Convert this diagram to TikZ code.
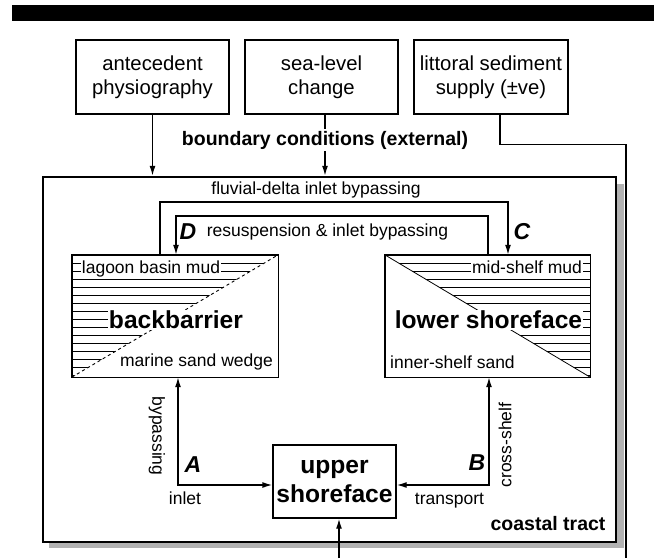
\documentclass[tikz,border=0pt]{standalone}
\usepackage{fontspec}
\setmainfont{Liberation Sans}
\usetikzlibrary{arrows.meta}
\begin{document}
\begin{tikzpicture}[x=1pt,y=-1pt,
  box/.style={draw, line width=1.4pt, fill=white, inner sep=0pt},
  conn/.style={line width=1.4pt},
  arr/.style={conn, -{Latex[length=10pt,width=6pt]}},
  darr/.style={conn, {Latex[length=10pt,width=6pt]}-{Latex[length=10pt,width=6pt]}},
  lab/.style={font=\fontsize{17.5}{20}\selectfont, inner sep=1pt},
  wlab/.style={lab, fill=white},
  toptxt/.style={font=\fontsize{20.3}{23.5}\selectfont, align=center},
  midbold/.style={font=\fontsize{19.5}{22}\selectfont\bfseries},
  bigbold/.style={font=\fontsize{24.6}{29}\selectfont\bfseries, align=center},
  letter/.style={font=\fontsize{23}{24}\selectfont\bfseries\itshape, inner sep=0pt},
  hatch/.style={line width=0.9pt}
]
\useasboundingbox (0,0) rectangle (654,558);
% top bar
\fill (12,5) rectangle (654,21);

% external boxes
\node[box, minimum width=153pt, minimum height=74pt, toptxt] (ante) at (152.5,77) {antecedent\\physiography};
\node[box, minimum width=153pt, minimum height=74pt, toptxt] (sea) at (321.5,77) {sea-level\\change};
\node[box, minimum width=154pt, minimum height=74pt, toptxt] (litt) at (491,77) {littoral sediment\\supply (±ve)};

% coastal tract box with shadow
\fill[gray!60] (49,184) rectangle (624,548);
\node[draw, line width=2.4pt, fill=white, minimum width=573pt, minimum height=365pt, inner sep=0pt] (coast) at (329.5,359.5) {};

% boundary arrows
\draw[arr] (ante.south) -- (ante.south |- coast.north);
\draw[arr] ([xshift=3.5pt]sea.south) -- ([xshift=3.5pt]sea.south |- coast.north);
\node[midbold, fill=white, inner sep=2pt] (bc) at (325,140) {boundary conditions (external)};
\coordinate (lend) at (626,558);
\draw[conn] ([xshift=9pt]litt.south) -- ++(0,30) -| (lend);

% inner boxes
\node[fill=white, minimum width=206pt, minimum height=122pt, inner sep=0pt] (bb) at (175,316) {};
\node[fill=white, minimum width=205pt, minimum height=122pt, inner sep=0pt] (ls) at (487.5,316) {};

\begin{scope}
\clip (bb.north west) -- (bb.north east) -- (bb.south west) -- cycle;
\foreach \yy in {263,271,...,375} \draw[hatch] (60,\yy) -- (290,\yy);
\end{scope}
\draw[dashed, line width=0.9pt] (bb.south west) -- (bb.north east);

\begin{scope}
\clip (ls.north west) -- (ls.north east) -- (ls.south east) -- cycle;
\foreach \yy in {263,271,...,375} \draw[hatch] (370,\yy) -- (600,\yy);
\end{scope}
\draw[line width=0.8pt] (ls.north west) -- (ls.south east);

\node[wlab] (lbm) at (151,269) {lagoon basin mud};
\node[bigbold, fill=white, inner sep=1pt] (bbt) at (176,320) {backbarrier};
\node[wlab] (msw) at (196.5,362) {marine sand wedge};
\node[wlab] (msm) at (527,267) {mid-shelf mud};
\node[bigbold, fill=white, inner sep=1pt] (lst) at (488.5,320) {lower shoreface};
\node[wlab] (iss) at (452.5,362) {inner-shelf sand};

\draw[line width=1.4pt] (bb.north west) rectangle (bb.south east);
\draw[line width=1.4pt] (ls.north west) rectangle (ls.south east);

% upper shoreface
\node[box, minimum width=123pt, minimum height=73pt, bigbold] (us) at (334.5,481.5) {upper\\shoreface};

% internal connectors
\draw[arr] ([xshift=-15pt]bb.north) -- ++(0,-53) -| ([xshift=20.5pt]ls.north);
\draw[arr] ([xshift=0.5pt]ls.north) -- ++(0,-39) -| ([xshift=1pt]bb.north);
\draw[darr] ([xshift=3pt]bb.south) |- ([yshift=-3.5pt]us.west);
\draw[darr] ([xshift=1.5pt]ls.south) |- ([yshift=-3.5pt]us.east);
\coordinate (ubot) at (339,558);
\draw[arr] (ubot) -- (ubot |- us.south);

% labels
\node[lab] (fd) at (316,190) {fluvial-delta inlet bypassing};
\node[letter] (D) at (188,232) {D};
\node[lab] (rs) at (327.5,232) {resuspension \& inlet bypassing};
\node[letter] (C) at (522,232) {C};
\node[letter] (A) at (193,465) {A};
\node[lab, rotate=-90] (byp) at (157,436) {bypassing};
\node[lab] (inl) at (185,498) {inlet};
\node[letter] (B) at (477,463) {B};
\node[lab, rotate=90] (cs) at (505,445) {cross-shelf};
\node[lab] (tr) at (449.5,501) {transport};
\node[midbold, anchor=east] (ct) at (609,524) {coastal tract};
\end{tikzpicture}
\end{document}
